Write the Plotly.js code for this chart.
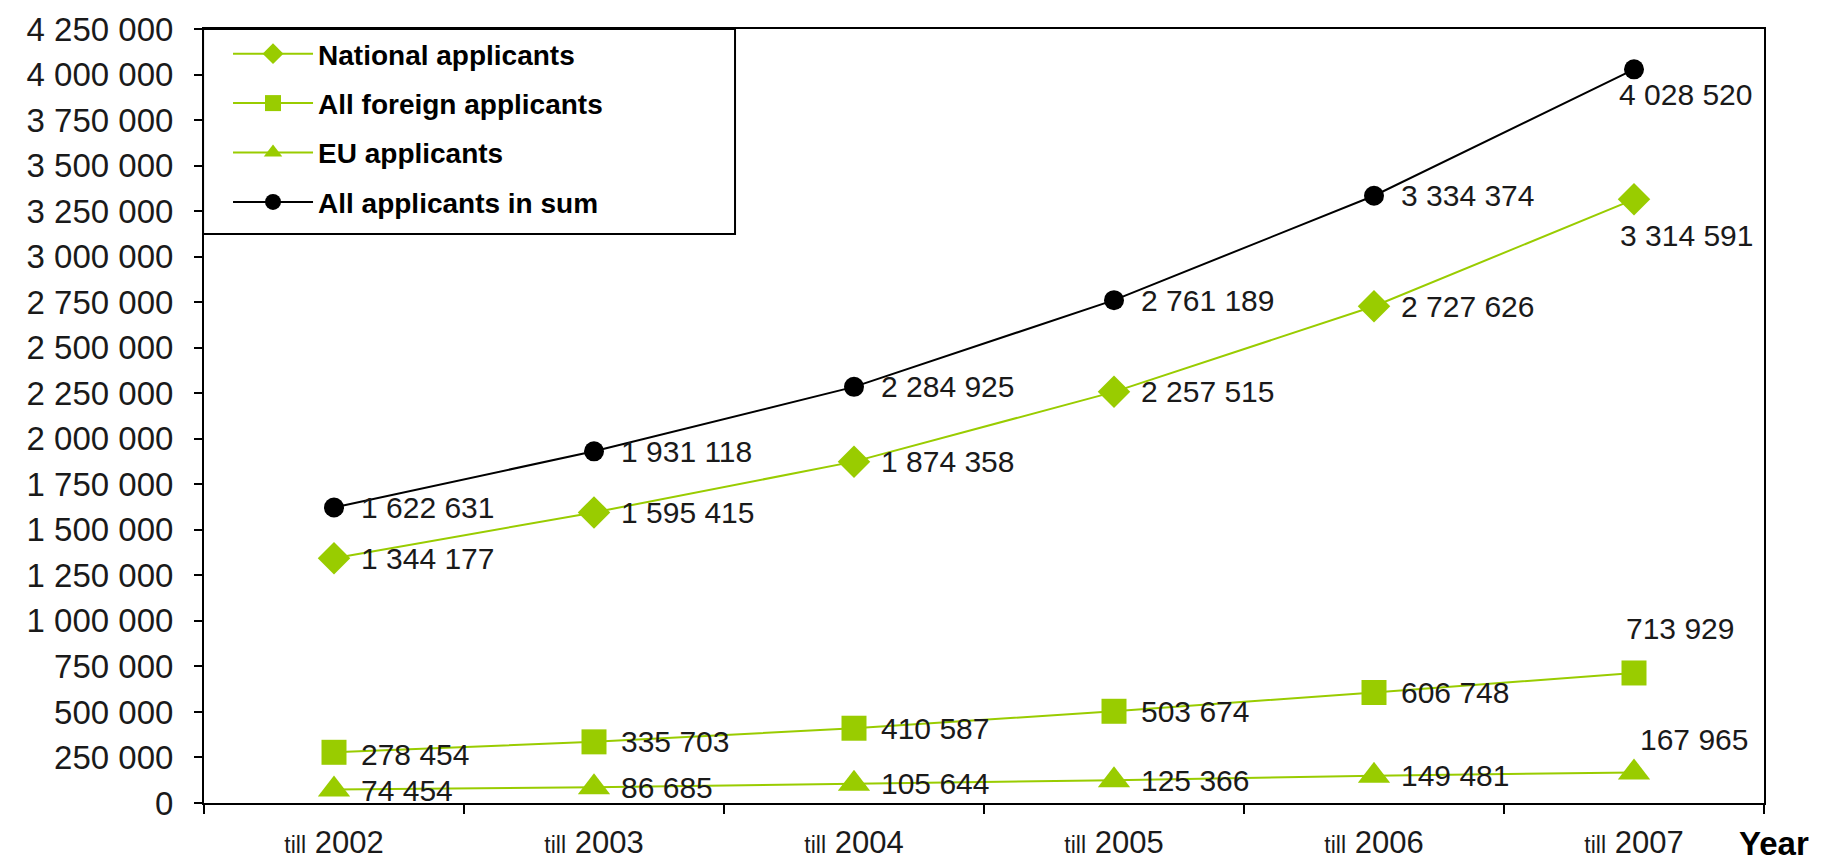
<!DOCTYPE html>
<html>
<head>
<meta charset="utf-8">
<script src="https://cdn.plot.ly/plotly-3.0.1.min.js"></script>
<style>
  html, body { margin: 0; padding: 0; background: #ffffff; }
  #chart { width: 1836px; height: 865px; }
</style>
</head>
<body>
<div id="chart"></div>
<script>
// ---- data ----
const years = ["2002", "2003", "2004", "2005", "2006", "2007"];
const tickPrefix = "till";
const seriesNames = ["National applicants", "All foreign applicants", "EU applicants", "All applicants in sum"];
const nationalApplicants = [1344177, 1595415, 1874358, 2257515, 2727626, 3314591];
const foreignApplicants = [278454, 335703, 410587, 503674, 606748, 713929];
const euApplicants = [74454, 86685, 105644, 125366, 149481, 167965];
const allApplicants = [1622631, 1931118, 2284925, 2761189, 3334374, 4028520];
const xAxisLabel = "Year";

// ---- styles ----
const GREEN = "#99cc00";
const FONT = "Liberation Sans, Arial, sans-serif";
const TEXT = "#1a1a1a";

// label offsets (pixels) per series: [xshift, yshift] for each point
const labelOffsets = {
  national: [[25,0],[25,0],[25,0],[25,0],[25,0],[-16,-36]],
  foreign:  [[25,-2],[25,0],[25,0],[25,0],[25,0],[-10,44]],
  eu:       [[25,-1],[25,0],[25,0],[25,0],[25,0],[4,33]],
  all:      [[25,0],[25,0],[25,0],[25,0],[25,0],[-17,-25]]
};

const cats = years.map(y => tickPrefix + " " + y);
const tickText = years.map(y => "<span style='font-size:23px'>" + tickPrefix + "</span> " + y);

function mk(name, y, color, symbol, size, grp) {
  return {
    type: "scatter", mode: "lines+markers", name: name, x: cats, y: y,
    legendgroup: grp,
    line: { color: color, width: 2 },
    marker: { symbol: symbol, size: size, color: color },
    hoverinfo: "skip", cliponaxis: false
  };
}

const traces = [
  mk(seriesNames[0], nationalApplicants, GREEN, "diamond", 25, "g1"),
  mk(seriesNames[1], foreignApplicants, GREEN, "square", 25, "g2"),
  mk(seriesNames[2], euApplicants, GREEN, "triangle-up", 28, "g3"),
  mk(seriesNames[3], allApplicants, "#000000", "circle", 20, "g4")
];

function fmt(v) {
  return String(v).replace(/\B(?=(\d{3})+(?!\d))/g, " ");
}

const annotations = [];
[[nationalApplicants, labelOffsets.national],
 [foreignApplicants, labelOffsets.foreign],
 [euApplicants, labelOffsets.eu],
 [allApplicants, labelOffsets.all]].forEach(([vals, offs]) => {
  vals.forEach((v, i) => {
    annotations.push({
      x: cats[i], y: v, xref: "x", yref: "y",
      text: fmt(v), showarrow: false,
      xanchor: "left", yanchor: "middle",
      xshift: offs[i][0], yshift: offs[i][1],
      font: { family: FONT, size: 30, color: TEXT }
    });
  });
});

annotations.push({
  x: 1, y: 0, xref: "paper", yref: "paper",
  text: "<b>" + xAxisLabel + "</b>", showarrow: false,
  xanchor: "center", yanchor: "middle",
  xshift: 10, yshift: -40,
  font: { family: FONT, size: 33, color: "#000" }
});

const layout = {
  width: 1836, height: 865,
  margin: { l: 204, r: 72, t: 29, b: 62 },
  paper_bgcolor: "#ffffff", plot_bgcolor: "#ffffff",
  separators: ". ",
  showlegend: true,
  legend: {
    x: 0.0154, y: 1, xanchor: "left", yanchor: "top",
    bgcolor: "rgba(255,255,255,0)", bordercolor: "#000", borderwidth: 0,
    font: { family: FONT, size: 28, color: "#000", weight: "bold" },
    itemwidth: 80, tracegroupgap: 10,
    itemclick: false, itemdoubleclick: false
  },
  xaxis: {
    type: "category", range: [-0.5, 5.5],
    tickmode: "array", tickvals: cats, ticktext: tickText,
    tickson: "boundaries", ticks: "outside", ticklen: 9, tickwidth: 2, tickcolor: "#000",
    showline: true, linecolor: "#000", linewidth: 2, mirror: true,
    showgrid: false, zeroline: false,
    tickfont: { family: FONT, size: 31, color: TEXT },
    ticklabelstandoff: 11
  },
  yaxis: {
    range: [0, 4250000], dtick: 250000, tick0: 0,
    tickformat: ",d",
    ticks: "outside", ticklen: 8, tickwidth: 2, tickcolor: "#000",
    showline: true, linecolor: "#000", linewidth: 2, mirror: true,
    showgrid: false, zeroline: false,
    tickfont: { family: FONT, size: 33, color: TEXT },
    ticklabelstandoff: 14
  },
  shapes: [{
    type: "rect", xref: "paper", yref: "paper",
    x0: -0.0006, x1: 0.3404, y0: 0.735, y1: 1,
    line: { color: "#000", width: 2 }, fillcolor: "#ffffff", layer: "below"
  }],
  annotations: annotations
};

Plotly.newPlot("chart", traces, layout, { staticPlot: true, displayModeBar: false });
</script>
</body>
</html>
